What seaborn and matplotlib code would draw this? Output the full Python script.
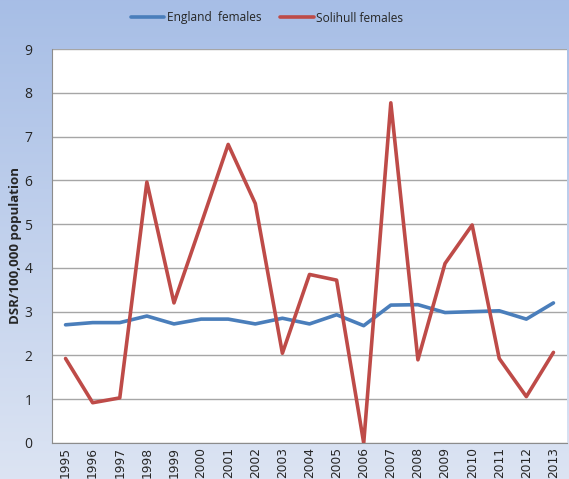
import numpy as np
import pandas as pd
import matplotlib
matplotlib.use("Agg")
import matplotlib.pyplot as plt
import seaborn as sns

# Data
years = [str(y) for y in range(1995, 2014)]
england = [2.70, 2.75, 2.75, 2.90, 2.72, 2.83, 2.83, 2.72, 2.85, 2.72,
           2.93, 2.68, 3.15, 3.16, 2.98, 3.00, 3.02, 2.83, 3.20]
solihull = [1.93, 0.92, 1.03, 5.96, 3.20, 5.00, 6.82, 5.47, 2.05, 3.85,
            3.72, 0.00, 7.77, 1.90, 4.10, 4.98, 1.93, 1.06, 2.07]

df = pd.DataFrame({
    "Year": years * 2,
    "DSR": england + solihull,
    "Series": ["England  females"] * len(years) + ["Solihull females"] * len(years),
})

sns.set_style("white")
plt.rcParams["font.family"] = ["Open Sans", "DejaVu Sans"]

fig = plt.figure(figsize=(5.69, 4.79), dpi=100)

# gradient background like the original
bg = fig.add_axes([0, 0, 1, 1], zorder=-1)
top = np.array([0.655, 0.745, 0.902])
bot = np.array([0.863, 0.894, 0.953])
t = np.linspace(0, 1, 256)[:, None]
grad = top[None, None, :] * (1 - t[..., None]) + bot[None, None, :] * t[..., None]
bg.imshow(np.repeat(grad, 2, axis=1), aspect="auto", extent=[0, 1, 0, 1])
bg.axis("off")

ax = fig.add_axes([52 / 569, 36 / 479, 515 / 569, 394 / 479])
ax.set_facecolor("white")
sns.lineplot(data=df, x="Year", y="DSR", hue="Series",
             palette=["#4A7EBB", "#BE4B48"], linewidth=2.6, ax=ax)

ax.set_xlim(-0.5, len(years) - 0.5)
ax.set_ylim(0, 9)
ax.set_yticks(range(0, 10))
ax.grid(axis="y", color="#A6A6A6", linewidth=1)
ax.set_axisbelow(True)
for side in ["top", "right"]:
    ax.spines[side].set_visible(False)
for side in ["left", "bottom"]:
    ax.spines[side].set_color("#8C8C8C")
ax.set_xlabel("")
ax.set_ylabel("DSR/100,000 population", fontsize=9.5, fontweight="bold", labelpad=2)
ax.tick_params(axis="y", labelsize=10, length=0, pad=14)
ax.tick_params(axis="x", labelsize=8.8, length=0, pad=3)
for lbl in ax.get_xticklabels():
    lbl.set_rotation(90)
    lbl.set_fontfamily("DejaVu Sans")

handles, labels = ax.get_legend_handles_labels()
ax.get_legend().remove()
fig.legend(handles, labels, loc="center left", bbox_to_anchor=(120 / 569, 1 - 18 / 479),
           ncol=2, frameon=False, fontsize=8.6, handlelength=2.8, columnspacing=1.6,
           handletextpad=0.2)

fig.savefig("out.png", dpi=100)
